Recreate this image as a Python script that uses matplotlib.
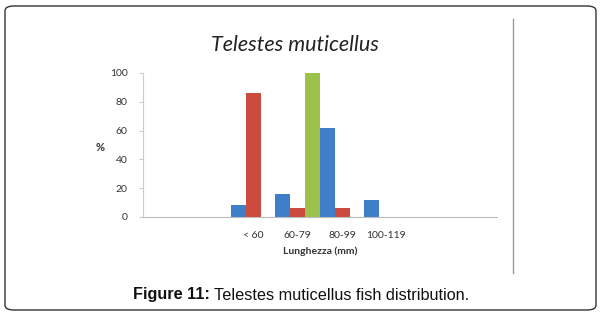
import matplotlib
matplotlib.use("Agg")
import matplotlib.pyplot as plt
import numpy as np
from matplotlib.patches import FancyBboxPatch
from matplotlib.lines import Line2D

categories = ["", "", "< 60", "60-79", "80-99", "100-119", "", ""]
series_blue = [0, 0, 8, 16, 62, 12, 0, 0]
series_red = [0, 0, 86, 6, 6, 0, 0, 0]
series_green = [0, 0, 0, 100, 0, 0, 0, 0]
yticks = [0, 20, 40, 60, 80, 100]

W, H = 601, 316
fig = plt.figure(figsize=(W / 100, H / 100), dpi=100)
fig.patch.set_facecolor("white")
cf = "Lato"

# outer rounded frame
frame = FancyBboxPatch((5 / W, 6 / H), 591 / W, 304 / H,
                       boxstyle="round,pad=0,rounding_size=0.015",
                       transform=fig.transFigure, fill=False,
                       edgecolor="#333333", linewidth=1.0)
fig.patches.append(frame)
# vertical separator line
fig.lines.append(Line2D([513 / W, 513 / W], [1 - 19 / H, 1 - 273 / H],
                        transform=fig.transFigure, color="#999999", linewidth=1.0))

ax = fig.add_axes([143 / W, 1 - 217 / H, 354 / W, 144 / H])
x = np.arange(len(categories))
bw = 0.34
ax.bar(x - bw, series_blue, bw, color="#3f7fca", align="center")
ax.bar(x, series_red, bw, color="#cd4a3e", align="center")
ax.bar(x + bw, series_green, bw, color="#9cc24c", align="center")

ax.set_xlim(-0.5, len(categories) - 0.5)
ax.set_ylim(0, 100)
ax.set_yticks(yticks)
ax.set_yticklabels([str(v) for v in yticks], fontsize=7.5, color="#333333", family=cf)
ax.set_xticks(x)
ax.set_xticklabels(categories, fontsize=7.5, color="#333333", family=cf)
ax.tick_params(axis="x", length=0, pad=10)
ax.tick_params(axis="y", length=3, color="#cccccc", pad=8)
for s in ["top", "right"]:
    ax.spines[s].set_visible(False)
ax.spines["left"].set_color("#cccccc")
ax.spines["bottom"].set_color("#bbbbbb")
ax.set_facecolor("none")

ax.set_xlabel("Lunghezza (mm)", fontsize=7.5, fontweight="bold", color="#333333",
              labelpad=5, family=cf)
ax.set_ylabel("%", fontsize=8, fontweight="bold", color="#333333", rotation=0,
              family=cf, va="center")
ax.yaxis.set_label_coords(-0.12, 0.48)

fig.text(295 / W, 1 - 45 / H, "Telestes muticellus", fontsize=15.5, style="italic",
         ha="center", va="center", color="#222222", family=cf)

t1 = fig.text(133 / W, 1 - 295 / H, "Figure 11:", fontsize=11.7, fontweight="bold",
              ha="left", va="center", color="#111111", family="Liberation Sans")
fig.canvas.draw()
bb = t1.get_window_extent()
fig.text(bb.x1 / W + 4 / W, 1 - 295 / H, "Telestes muticellus fish distribution.",
         fontsize=11.7, ha="left", va="center", color="#111111", family="Liberation Sans")

fig.savefig("out.png", dpi=100, facecolor="white")
